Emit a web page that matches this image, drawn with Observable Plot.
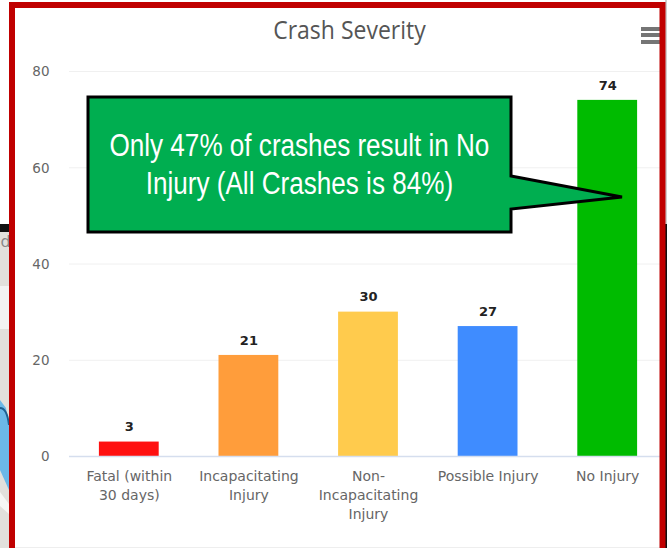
<!DOCTYPE html>
<html>
<head>
<meta charset="utf-8">
<script src="https://cdn.jsdelivr.net/npm/d3@7"></script>
<script src="https://cdn.jsdelivr.net/npm/@observablehq/plot@0.6"></script>
<style>
  html, body { margin: 0; padding: 0; background: #fff; width: 667px; height: 548px; overflow: hidden; }
  #chart { position: absolute; left: 0; top: 0; }
  #chart svg { display: block; }
</style>
</head>
<body>
<div id="chart"></div>
<script>
const categories = ["Fatal (within\n30 days)", "Incapacitating\nInjury", "Non-\nIncapacitating\nInjury", "Possible Injury", "No Injury"];
const counts = [3, 21, 30, 27, 74];
const barColors = ["#ff1010", "#ff9d3b", "#ffcb4d", "#3f8cff", "#00bb00"];
const yTicks = [0, 20, 40, 60, 80];
const titleText = "Crash Severity";
const calloutText = "Only 47% of crashes result in No\nInjury (All Crashes is 84%)";
const clippedText = "d";
const rows = categories.map((category, i) => ({category, count: counts[i], color: barColors[i]}));

// Shapes that sit outside the data scales: the screenshot's frame, menu icon and callout.
const svgEl = (name, attrs) => {
  const el = document.createElementNS("http://www.w3.org/2000/svg", name);
  for (const k in attrs) el.setAttribute(k, attrs[k]);
  return el;
};
const behind = () => {
  const g = svgEl("g", {});
  g.append(svgEl("rect", {x: 0, y: 232, width: 10, height: 316, fill: "#e2e0dc"}));
  g.append(svgEl("rect", {x: 0, y: 224, width: 10, height: 8, fill: "#111"}));
  g.append(svgEl("rect", {x: 0, y: 286, width: 10, height: 43, fill: "#f3f3f3"}));
  g.append(svgEl("path", {d: "M0 400L6 408L9 425V490L0 470Z", fill: "#6cb8e8"}));
  g.append(svgEl("path", {d: "M0 408Q7 408 9 425", fill: "none", stroke: "#1f5f8f", "stroke-width": 2}));
  g.append(svgEl("path", {d: "M0 492L9 504V514L0 506Z", fill: "#f6f6f4"}));
  g.append(svgEl("rect", {x: 665, y: 0, width: 2, height: 224, fill: "#cfcfcf"}));
  g.append(svgEl("rect", {x: 665, y: 224, width: 2, height: 324, fill: "#111"}));
  g.append(svgEl("rect", {x: 15, y: 547, width: 645, height: 1, fill: "#eeeeee"}));
  return g;
};
const overlay = () => {
  const g = svgEl("g", {});
  g.append(svgEl("path", {d: "M88 97H511V176L622 197L511 209V232H88Z", fill: "#00ae50", stroke: "#000", "stroke-width": 3}));
  for (const y of [27, 33, 40]) g.append(svgEl("rect", {x: 641, y, width: 19, height: 4, fill: "#757575"}));
  g.append(svgEl("path", {d: "M12 548V5H662.5V548", fill: "none", stroke: "#c00000", "stroke-width": 6}));
  return g;
};
// Horizontally condense a text mark about a centre line, keeping the mark's own offset.
const squeeze = (cx, k) => (index, scales, values, dimensions, context, next) => {
  const g = next(index, scales, values, dimensions, context);
  const own = g.getAttribute("transform") || "";
  g.setAttribute("transform", `translate(${cx} 0) scale(${k} 1) translate(${-cx} 0) ${own}`);
  return g;
};

const chart = Plot.plot({
  width: 667,
  height: 548,
  marginTop: 0, marginRight: 0, marginBottom: 0, marginLeft: 0,
  style: {background: "#fff", overflow: "visible"},
  x: {type: "band", domain: categories, range: [69, 667], paddingInner: 0.5, paddingOuter: 0.25, round: false, label: null, axis: null},
  y: {domain: [0, 80], range: [456, 71], label: null, axis: null},
  marks: [
    behind,
    Plot.ruleY(yTicks, {stroke: "#f0f0f0", strokeWidth: 1, insetLeft: 69, insetRight: 7}),
    Plot.axisY(yTicks, {anchor: "left", tickSize: 0, tickPadding: 0, dx: 49, dy: 0.5, fontSize: 13.5, fill: "#666", fontFamily: "DejaVu Sans", label: null, textAnchor: "end"}),
    Plot.barY(rows, {x: "category", y: "count", fill: "color"}),
    Plot.ruleY([0], {stroke: "#d5deee", strokeWidth: 1.5, insetLeft: 69, insetRight: 7}),
    Plot.text(rows, {x: "category", y: "count", text: "count", dy: -15, fontSize: 13, fontWeight: "bold", fill: "#222", fontFamily: "DejaVu Sans"}),
    Plot.text(rows, {x: "category", y: () => 0, dy: 11, text: "category", lineAnchor: "top", lineHeight: 1.36, fontSize: 14, fill: "#666", fontFamily: "DejaVu Sans"}),
    Plot.text([titleText], {frameAnchor: "top-left", dx: 349, dy: 30, lineAnchor: "middle", textAnchor: "middle", fontSize: 25, fill: "#555", fontFamily: "Open Sans", render: squeeze(349, 0.92)}),
    Plot.text([clippedText], {frameAnchor: "top-left", dx: 0, dy: 241, lineAnchor: "middle", textAnchor: "start", fontSize: 16, fill: "#888", fontFamily: "DejaVu Sans"}),
    overlay,
    Plot.text([calloutText], {frameAnchor: "top-left", dx: 299, dy: 162, lineAnchor: "middle", textAnchor: "middle", lineHeight: 1.22, fontSize: 31, fill: "#fff", fontFamily: "Liberation Sans", render: squeeze(299, 0.842)})
  ]
});
document.getElementById("chart").append(chart);
</script>
</body>
</html>
